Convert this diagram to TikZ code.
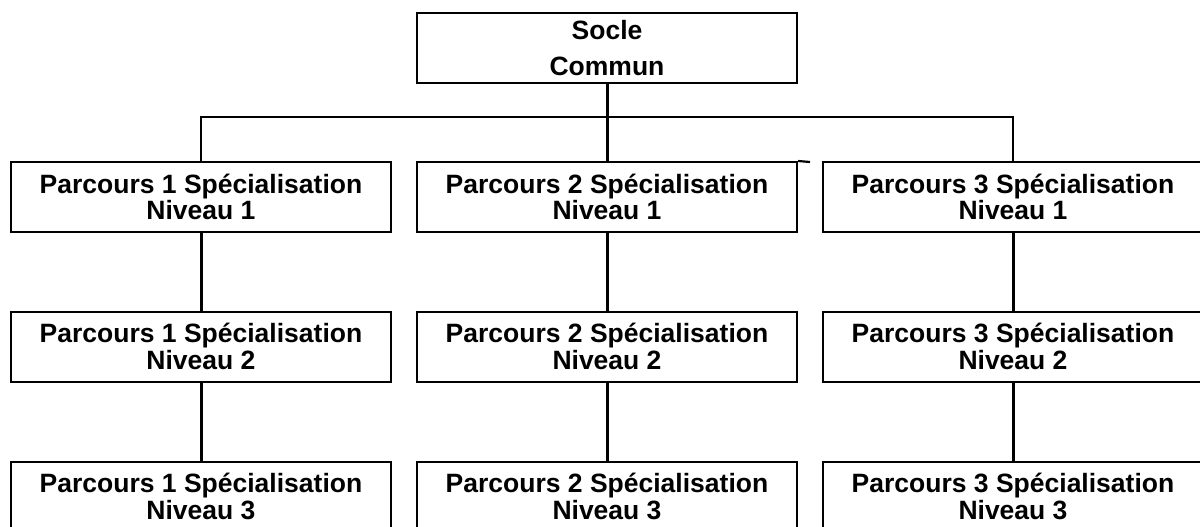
\documentclass[tikz,border=0pt]{standalone}
\usepackage{fontspec}
\setmainfont{Liberation Sans}
\usetikzlibrary{positioning}
\tikzset{
  parcours/.style={draw, line width=2pt, minimum width=380pt, minimum height=70pt,
    inner sep=0pt, align=center, font=\bfseries\fontsize{26.5}{26.7}\selectfont},
  lien/.style={line width=3pt},
  bus/.style={line width=2.2pt}
}

\begin{document}
\begin{tikzpicture}[x=1pt, y=-1pt]
        \useasboundingbox (0,0) rectangle (1200,527);
        \fill[white] (0,0) rectangle (1200,527);
        \clip (0,0) rectangle (1200,527);

        % socle (top)
        \node[parcours] (socle) at (607,48) {Socle\\[10pt]Commun};

        % niveau 1
        \node[parcours] (p1a) at (201,197) {Parcours 1 Spécialisation\\Niveau 1};
        \node[parcours] (p2a) at (607,197) {Parcours 2 Spécialisation\\Niveau 1};
        \node[parcours] (p3a) at (1013,197) {Parcours 3 Spécialisation\\Niveau 1};

        % niveau 2
        \node[parcours] (p1b) at (201,346.5) {Parcours 1 Spécialisation\\Niveau 2};
        \node[parcours] (p2b) at (607,346.5) {Parcours 2 Spécialisation\\Niveau 2};
        \node[parcours] (p3b) at (1013,346.5) {Parcours 3 Spécialisation\\Niveau 2};

        % niveau 3 (cut by the page edge)
        \node[parcours] (p1c) at (201,496.5) {Parcours 1 Spécialisation\\Niveau 3};
        \node[parcours] (p2c) at (607,496.5) {Parcours 2 Spécialisation\\Niveau 3};
        \node[parcours] (p3c) at (1013,496.5) {Parcours 3 Spécialisation\\Niveau 3};

        % socle -> niveau 1
        \coordinate (mid) at (607,117);
        \draw[lien] (socle) -- (p2a);
        \draw[bus] (p1a.north) |- (mid) -| (p3a.north);

        % small stub on the corner of p2a
        \coordinate (stub) at (810,162);
        \draw[bus] (p2a.north east) -- (stub);

        % niveau 1 -> 2 -> 3
        \draw[lien] (p1a) -- (p1b) -- (p1c);
        \draw[lien] (p2a) -- (p2b) -- (p2c);
        \draw[lien] (p3a) -- (p3b) -- (p3c);

    \end{tikzpicture}
\end{document}
